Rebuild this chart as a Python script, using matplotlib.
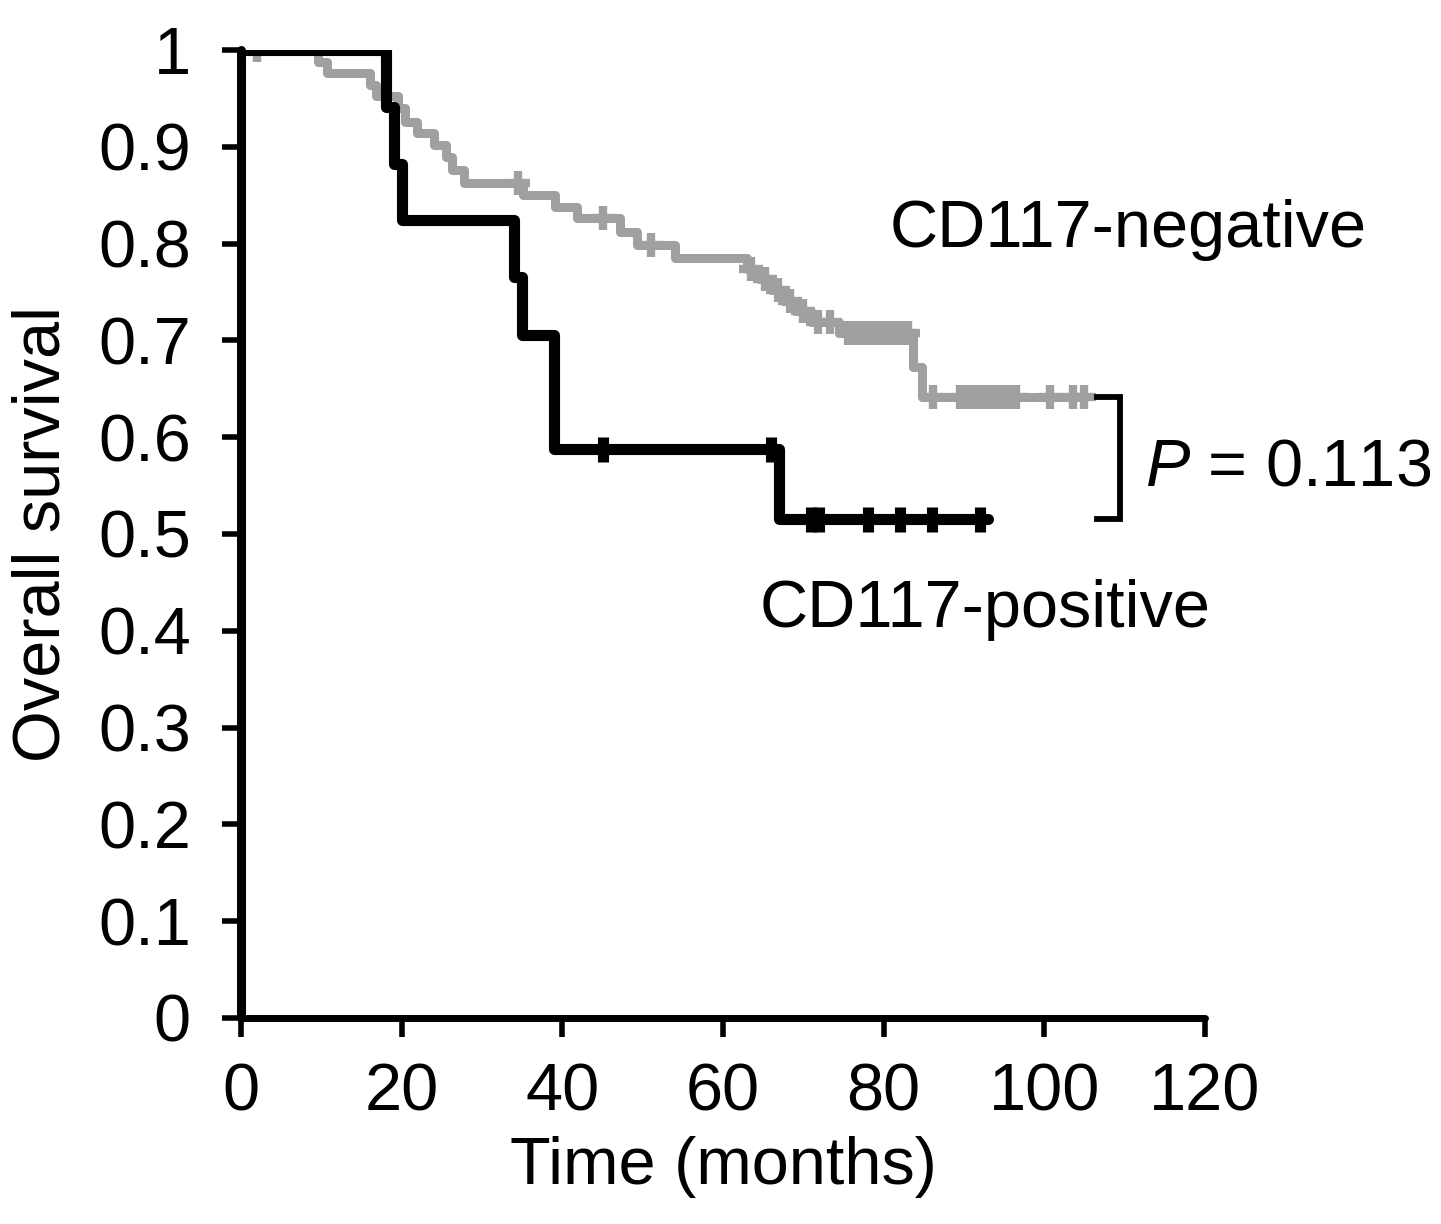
import matplotlib
matplotlib.use("Agg")
import matplotlib.pyplot as plt
import numpy as np

plt.rcParams['font.family'] = ['Liberation Sans', 'DejaVu Sans']
plt.rcParams['mathtext.fontset'] = 'custom'
plt.rcParams['mathtext.it'] = 'Liberation Sans:italic'
plt.rcParams['mathtext.rm'] = 'Liberation Sans'

# ---- data ----
# CD117-positive (black)
pos_times = [0, 18, 19, 20, 34, 35, 39, 67, 93]
pos_surv = [1.0, 0.941, 0.882, 0.824, 0.765, 0.706, 0.588, 0.515, 0.515]
pos_censor = [45, 66, 71, 72, 78, 82, 86, 92]

# CD117-negative (gray)
neg_times = [0, 9.6, 10.7, 16.1, 16.8, 19.5, 20.4, 21.9, 24.0, 25.5, 26.3, 27.8,
             35.1, 39.1, 41.8, 47.2, 49.3, 54.0,
             63.0, 64.5, 66.0, 67.5, 69.0, 71.0, 74.5, 83.7, 84.8, 105]
neg_surv = [1.0, 0.988, 0.976, 0.964, 0.952, 0.940, 0.926, 0.914, 0.902, 0.889, 0.876, 0.863,
            0.850, 0.838, 0.826, 0.812, 0.799, 0.785,
            0.774, 0.763, 0.752, 0.741, 0.730, 0.719, 0.708, 0.673, 0.642, 0.642]
neg_censor = [2, 34.5, 45, 51, 63.5, 65.2, 66.8, 68.3, 69.9, 71.8, 73.3, 75.5,
              76.5, 77.5, 78.5, 79.5, 80.5, 81.5, 82.3, 83.0,
              86.2, 89.5, 90.5, 91.5, 92.5, 93.5, 94.5, 95.5, 96.5, 100.7, 103.6, 104.9]

x_ticks = [0, 20, 40, 60, 80, 100, 120]
y_ticks = [0, 0.1, 0.2, 0.3, 0.4, 0.5, 0.6, 0.7, 0.8, 0.9, 1.0]
y_tick_labels = ['0', '0.1', '0.2', '0.3', '0.4', '0.5', '0.6', '0.7', '0.8', '0.9', '1']
p_value = "0.113"


def surv_at(times, surv, t):
    idx = np.searchsorted(times, t, side='right') - 1
    return np.asarray(surv)[idx]


W, H = 1441, 1224
fig = plt.figure(figsize=(W / 100, H / 100), dpi=100)
ax = fig.add_axes([241 / W, (H - 1018) / H, (1205 - 241) / W, (1018 - 50) / H])

gray = '#a0a0a0'
ax.step(neg_times, neg_surv, where='post', color=gray, lw=6.5,
        solid_joinstyle='round', solid_capstyle='round', zorder=3)
ax.plot(neg_censor, surv_at(neg_times, neg_surv, neg_censor), ls='none',
        marker='+', ms=17, mew=6, color=gray, zorder=3)

ax.step(pos_times, pos_surv, where='post', color='black', lw=8,
        solid_joinstyle='round', solid_capstyle='round', zorder=4)
ax.plot(pos_censor, surv_at(pos_times, pos_surv, pos_censor), ls='none',
        marker='|', ms=18, mew=8, color='black', zorder=4)

# bracket between final levels
bx0, bx1 = 106.6, 109.4
ytop, ybot = neg_surv[-1], pos_surv[-1]
ax.plot([bx0, bx1, bx1, bx0], [ytop, ytop, ybot, ybot], color='black', lw=4.2,
        solid_joinstyle='miter', clip_on=False, zorder=5)

fs = 48
ax.text(80.8, 0.814, 'CD117-negative', fontsize=fs, va='center', ha='left')
ax.text(64.6, 0.421, 'CD117-positive', fontsize=fs, va='center', ha='left')
ax.text(112.5, 0.568, r'$\mathit{P}$ = ' + p_value, fontsize=fs, va='center', ha='left',
        clip_on=False)

ax.set_xlim(0, 120)
ax.set_ylim(0, 1)
ax.set_xticks(x_ticks)
ax.set_xticklabels([str(v) for v in x_ticks])
ax.set_yticks(y_ticks)
ax.set_yticklabels(y_tick_labels)

for s in ['top', 'right']:
    ax.spines[s].set_visible(False)
ax.spines['left'].set_linewidth(6.5)
ax.spines['bottom'].set_linewidth(5)
ax.spines['left'].set_capstyle('round')
ax.spines['bottom'].set_capstyle('round')
ax.spines['left'].set_zorder(6)

ax.tick_params(axis='both', direction='out', length=14, width=4, labelsize=fs)
ax.tick_params(axis='y', pad=22)
ax.tick_params(axis='x', pad=18)

ax.set_xlabel('Time (months)', fontsize=fs, labelpad=8)
ax.set_ylabel('Overall survival', fontsize=fs, labelpad=18)

fig.savefig('out.png', dpi=100)
